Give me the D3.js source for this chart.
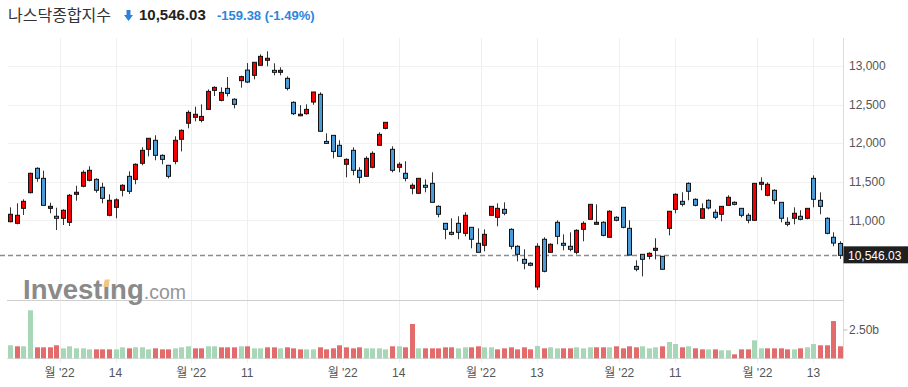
<!DOCTYPE html>
<html>
<head>
<meta charset="utf-8">
<script src="https://cdn.jsdelivr.net/npm/d3@7"></script>
<style>
  body { margin: 0; background: #fff; }
  text { font-family: "Liberation Sans", Arial, sans-serif; }
</style>
</head>
<body>
<svg id="chart" width="908" height="387"></svg>
<script>
// daily candles, Jun 21 - Dec 19 2022
const opens = [10982,10961,11155,11358,11674,11544,11155,11052,11026,10974,11337,11441,11518,11531,11428,11065,11168,11389,11570,11531,
  11739,11920,12037,11842,11713,11764,12050,12258,12335,12295,12438,12684,12555,12710,12569,12810,12947,12879,13009,13074,
  12944,12918,12840,12529,12355,12382,12533,12633,12023,12101,11972,11726,11907,11648,11570,11687,11972,12192,11920,11687,
  11609,11415,11350,11454,11479,11181,10961,10844,10961,10831,10909,10702,10676,11065,11039,11142,10883,10663,10494,10443,
  10136,10754,10585,10974,10702,10663,10585,10883,11013,10948,10974,10780,11039,11168,10896,10403,10559,10533,10611,10533,
  10896,11142,11246,11479,11272,11026,11259,11104,11078,11194,11233,11155,11065,11000,11467,11324,11389,11233,10974,11026,
  11052,11026,11544,11259,11026,10780,10700];
const highs = [11168,11220,11272,11617,11687,11643,11228,11163,11143,11341,11448,11648,11700,11544,11487,11337,11285,11467,11635,11739,
  11946,12063,12102,11855,11713,12089,12179,12425,12473,12503,12697,12736,12723,12857,12582,12875,13038,13048,13151,13190,
  13035,12983,12866,12542,12493,12503,12663,12659,12127,12101,12037,11803,11946,11687,11829,11894,12140,12270,11959,11752,
  11765,11479,11544,11531,11622,11194,10961,11026,11052,11104,10909,10896,10883,11181,11220,11233,10896,10676,10624,10456,
  10702,10780,10702,11000,10818,10844,10883,10987,11207,11207,10987,11130,11052,11168,11000,10481,10559,10585,10767,10533,
  11117,11350,11363,11492,11285,11220,11272,11142,11181,11324,11246,11155,11091,11479,11557,11492,11402,11233,11039,11168,
  11130,11155,11583,11363,11039,10844,10728];
const lows = [10974,10948,11069,11350,11500,11194,11091,10874,10939,10926,11254,11428,11505,11358,11220,11052,11026,11311,11341,11467,
  11713,11829,11778,11726,11544,11726,11893,12192,12283,12269,12438,12611,12542,12606,12451,12719,12779,12827,13009,12996,
  12879,12879,12684,12364,12350,12369,12498,12154,11997,11803,11829,11557,11583,11479,11570,11674,11972,12179,11622,11622,
  11505,11337,11350,11363,11233,11039,10754,10805,10754,10792,10637,10585,10598,11065,10922,11065,10624,10468,10365,10404,
  10097,10326,10585,10689,10611,10598,10559,10728,11013,10948,10792,10780,10987,10896,10546,10339,10274,10494,10494,10365,
  10805,11091,11181,11259,11181,11026,11142,11013,10987,11194,11194,11039,10961,11000,11389,11311,11207,10974,10922,10948,
  11000,11013,11168,11078,10818,10663,10500];
const closes = [11078,11065,11246,11609,11544,11194,11181,11026,11130,11324,11363,11622,11648,11389,11285,11259,11265,11454,11376,11726,
  11907,12063,11842,11790,11570,12037,12166,12399,12374,12347,12671,12723,12658,12645,12503,12862,12792,13048,13125,13100,
  12918,12944,12710,12382,12375,12438,12663,12154,11997,11893,11829,11790,11648,11557,11803,11868,12114,12270,11648,11726,
  11544,11454,11544,11428,11233,11078,10883,10818,10844,11065,10754,10585,10818,11181,11155,11091,10663,10559,10443,10417,
  10663,10339,10689,10792,10676,10624,10870,10961,11207,10974,10805,11117,11000,10909,10550,10365,10494,10572,10637,10365,
  11117,11337,11207,11376,11194,11150,11160,11039,11181,11298,11207,11065,11000,11479,11492,11467,11259,11026,10948,11091,
  11013,11155,11272,11181,10831,10705,10546.03];
// volume, billions
const volumes = [1.15,1.06,1.06,4.24,0.97,0.97,0.97,1.15,0.88,1.06,0.88,0.88,0.79,0.79,0.79,0.79,0.79,0.97,0.88,0.97,
  0.97,0.79,0.88,0.79,0.79,0.88,0.97,1.06,0.88,0.88,1.06,1.06,0.97,0.97,0.97,1.06,1.06,0.88,0.88,0.97,
  0.97,0.88,0.97,0.88,0.79,0.79,0.79,0.97,0.79,0.88,1.15,0.97,0.88,0.97,0.88,0.88,0.88,0.79,1.06,1.06,
  0.97,3.03,0.88,0.88,0.88,0.88,0.97,0.97,0.88,0.97,0.97,1.06,0.97,0.97,0.79,0.88,0.97,0.79,0.97,0.79,
  1.09,0.88,0.97,0.88,0.88,0.88,0.97,0.88,0.97,0.97,0.97,0.97,1.06,0.88,1.06,0.97,1.06,0.88,0.97,1.06,
  1.44,1.26,0.97,1.06,0.88,0.79,0.79,0.79,0.71,0.71,0.35,0.79,0.79,1.59,0.88,0.88,0.88,0.88,0.79,0.79,
  0.88,0.97,1.26,1.15,1.15,3.29,1.06];

const tickPos = [7.5, 16, 27.5, 36, 50.5, 59, 71.5, 80, 92.5, 101, 113.5, 122];
const tickLabels = ["월 '22", "14", "월 '22", "11", "월 '22", "14", "월 '22", "13", "월 '22", "11", "월 '22", "13"];
const priceTicks = [11000, 11500, 12000, 12500, 13000];
const volTicks = [2.5];

const title = "나스닥종합지수";
const lastPrice = 10546.03;
const change = -159.38;
const changePct = -1.49;

// plain hyphen for negatives, like the source
const loc = d3.formatLocale({ decimal: '.', thousands: ',', grouping: [3], currency: ['', ''], minus: '-' });
const fmtInt = loc.format(',');
const fmt2 = loc.format(',.2f');

const svg = d3.select('#chart');
const n = closes.length;

const x = d3.scaleLinear().domain([0, n - 1]).range([10.2, 839.8]);
const y = d3.scaleLinear().domain([11000, 13000]).range([220.3, 66]);
const yv = d3.scaleLinear().domain([0, 2.5]).range([358.3, 330]);
const axisX = 843.5;

// grid
svg.append('g').selectAll('line')
  .data(tickPos).enter().append('line')
  .attr('x1', d => Math.round(x(d)) + 0.5).attr('x2', d => Math.round(x(d)) + 0.5)
  .attr('y1', 38).attr('y2', 363)
  .attr('stroke', '#efefef');

svg.append('g').selectAll('line')
  .data(priceTicks).enter().append('line')
  .attr('x1', 8).attr('x2', axisX)
  .attr('y1', d => Math.round(y(d)) + 0.5).attr('y2', d => Math.round(y(d)) + 0.5)
  .attr('stroke', '#f1f1f1');

// panel lines
svg.append('line').attr('x1', axisX).attr('x2', axisX).attr('y1', 38).attr('y2', 359)
  .attr('stroke', '#dcdcdc');
svg.append('line').attr('x1', 7).attr('x2', axisX).attr('y1', 300.5).attr('y2', 300.5)
  .attr('stroke', '#cfcfcf');
svg.append('line').attr('x1', 7).attr('x2', axisX).attr('y1', 358.5).attr('y2', 358.5)
  .attr('stroke', '#dcdcdc');

// watermark
const wm = svg.append('text').attr('x', 23).attr('y', 299)
  .attr('fill', '#8a8a8a');
wm.append('tspan').attr('font-size', 27.5).attr('font-weight', 'bold')
  .text('Investıng');
wm.append('tspan').attr('font-size', 19.5).attr('fill', '#959595').text('.com');
const iBox = wm.node().getExtentOfChar(6);
const icx = iBox.x + iBox.width / 2;
svg.append('path')
  .attr('d', `M${icx - 3},${287} L${icx + 2},${287} L${icx + 3.5},${279.5} L${icx - 1.5},${279.5} Z`)
  .attr('fill', '#f6c47c');

// volume bars
svg.append('g').selectAll('rect')
  .data(volumes).enter().append('rect')
  .attr('x', (d, i) => Math.round(x(i)) - 2)
  .attr('width', 5)
  .attr('y', d => yv(d))
  .attr('height', d => yv(0) - yv(d))
  .attr('fill', (d, i) => {
    const up = i === 0 ? closes[i] >= opens[i] : closes[i] >= closes[i - 1];
    return up ? '#a7d7b6' : '#e36b6b';
  });

// last price dashed line
svg.append('line')
  .attr('x1', 0).attr('x2', axisX)
  .attr('y1', Math.round(y(lastPrice)) + 0.5).attr('y2', Math.round(y(lastPrice)) + 0.5)
  .attr('stroke', '#8c8c8c').attr('stroke-width', 1.3).attr('stroke-dasharray', '5,3');

// candles
const candles = svg.append('g').selectAll('g')
  .data(closes.map((c, i) => ({ i, o: opens[i], h: highs[i], l: lows[i], c })))
  .enter().append('g');

candles.append('line')
  .attr('x1', d => Math.round(x(d.i)) + 0.5).attr('x2', d => Math.round(x(d.i)) + 0.5)
  .attr('y1', d => y(d.h)).attr('y2', d => y(d.l))
  .attr('stroke', '#333').attr('stroke-width', 1);

candles.append('rect')
  .attr('x', d => Math.round(x(d.i)) - 1.5)
  .attr('width', 4)
  .attr('y', d => y(Math.max(d.o, d.c)))
  .attr('height', d => Math.max(1, Math.abs(y(d.o) - y(d.c))))
  .attr('fill', d => d.c >= d.o ? '#f40000' : '#4a9bd8')
  .attr('stroke', '#111').attr('stroke-width', 1);

// price axis labels
svg.append('g').selectAll('text')
  .data(priceTicks).enter().append('text')
  .attr('x', 849).attr('y', d => y(d) + 4.3)
  .attr('font-size', 12).attr('fill', '#555')
  .text(d => fmtInt(d));

// last price box
const ly = y(lastPrice);
svg.append('rect').attr('x', axisX).attr('y', ly - 9).attr('width', 908 - axisX).attr('height', 17)
  .attr('fill', '#1f1f1f');
svg.append('text').attr('x', 848).attr('y', ly + 4.3)
  .attr('font-size', 12).attr('fill', '#fff')
  .text(fmt2(lastPrice));

// volume axis
svg.append('g').selectAll('line')
  .data(volTicks).enter().append('line')
  .attr('x1', axisX).attr('x2', axisX + 4)
  .attr('y1', d => yv(d)).attr('y2', d => yv(d))
  .attr('stroke', '#bbb');
svg.append('g').selectAll('text')
  .data(volTicks).enter().append('text')
  .attr('x', 849).attr('y', d => yv(d) + 4.3)
  .attr('font-size', 12).attr('fill', '#555')
  .text(d => fmt2(d) + 'b');

// date labels
svg.append('g').selectAll('text')
  .data(tickPos).enter().append('text')
  .attr('x', d => x(d)).attr('y', 377)
  .attr('text-anchor', 'middle')
  .attr('font-size', 12).attr('fill', '#555')
  .style('font-family', '"Liberation Sans", "Noto Sans CJK KR", sans-serif')
  .text((d, i) => tickLabels[i]);

// header
svg.append('text').attr('x', 8).attr('y', 21)
  .attr('font-size', 16).attr('fill', '#333')
  .style('font-family', '"Noto Sans CJK KR", sans-serif')
  .text(title);
svg.append('path')
  .attr('d', 'M126.5,10 L130.5,10 L130.5,15 L133,15 L128.5,21 L124,15 L126.5,15 Z')
  .attr('fill', '#2f80d8');
svg.append('text').attr('x', 139).attr('y', 20)
  .attr('font-size', 15).attr('font-weight', 'bold').attr('fill', '#222')
  .text(fmt2(lastPrice));
svg.append('text').attr('x', 217).attr('y', 20)
  .attr('font-size', 13).attr('font-weight', 'bold').attr('fill', '#2b86dc')
  .text(fmt2(change) + '  (' + fmt2(changePct) + '%)');
</script>
</body>
</html>
